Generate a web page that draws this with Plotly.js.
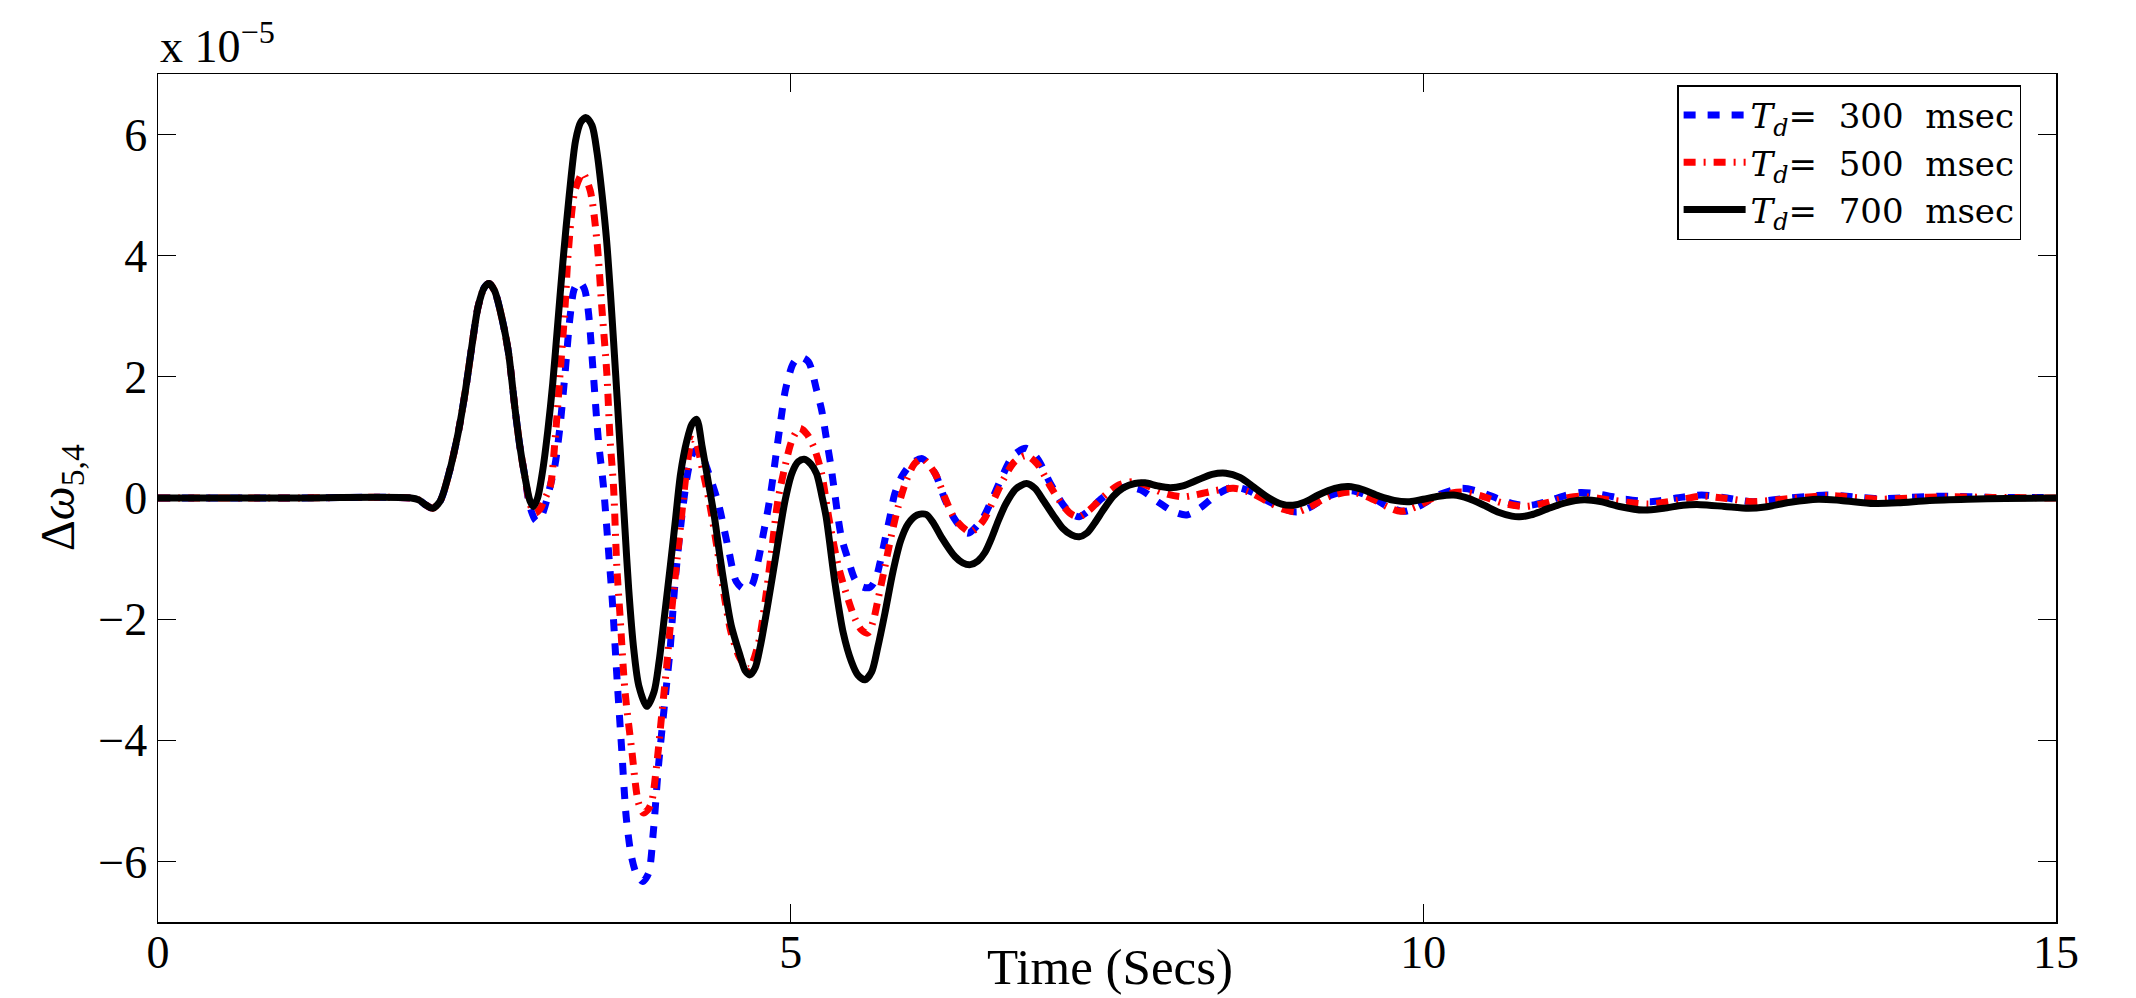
<!DOCTYPE html>
<html>
<head>
<meta charset="utf-8">
<script src="https://cdn.plot.ly/plotly-3.0.1.min.js"></script>
<style>html,body{margin:0;padding:0;background:#fff;}#chart{width:2136px;height:998px;}</style>
</head>
<body>
<div id="chart"></div>
<script>
// Values in units of 1e-5 (axis multiplier "x 10^-5")
// Shared start of all three responses
const tStart = [0, 1.0, 2.0, 2.06, 2.12, 2.17, 2.23, 2.3, 2.37, 2.43, 2.48, 2.53, 2.58, 2.617, 2.66, 2.72, 2.77, 2.82, 2.86, 2.9];
const vStart = [0, 0, 0, -0.03, -0.12, -0.17, -0.05, 0.41, 1.05, 1.78, 2.5, 3.16, 3.48, 3.54, 3.42, 2.95, 2.4, 1.5, 0.85, 0.35];

// Td = 300 msec
const t300 = [2.94, 2.99, 3.03, 3.07, 3.1, 3.138, 3.178, 3.217, 3.257, 3.29, 3.33, 3.37, 3.4, 3.44, 3.48, 3.52, 3.56, 3.59, 3.63, 3.665, 3.70, 3.74, 3.78, 3.83, 3.876, 3.915, 3.955, 4.007, 4.047, 4.086, 4.14, 4.19, 4.23, 4.27, 4.31, 4.37, 4.43, 4.51, 4.57, 4.63, 4.69, 4.745, 4.785, 4.82, 4.85, 4.88, 4.93, 4.96, 5.02, 5.07, 5.14, 5.205, 5.245, 5.28, 5.32, 5.35, 5.40, 5.455, 5.51, 5.57, 5.63, 5.67, 5.705, 5.745, 5.785, 5.82, 5.877, 5.956, 6.04, 6.14, 6.22, 6.3, 6.4, 6.51, 6.59, 6.67, 6.76, 6.86, 6.95, 7.05, 7.15, 7.22, 7.28, 7.35, 7.45, 7.55, 7.65, 7.77, 7.9, 8.02, 8.13, 8.24, 8.37, 8.5, 8.62, 8.78, 8.9, 9.0, 9.1, 9.25, 9.43, 9.6, 9.72, 9.85, 9.98, 10.12, 10.3, 10.45, 10.6, 10.72, 10.85, 11.0, 11.12, 11.24, 11.4, 11.6, 11.8, 12.0, 12.2, 12.4, 12.6, 12.9, 13.19, 13.4, 13.6, 13.85, 14.1, 14.5, 15];
const v300 = [-0.15, -0.38, -0.3, -0.05, 0.2, 0.55, 1.2, 2.06, 3.0, 3.45, 3.57, 3.45, 3.1, 2.06, 0.96, 0.2, -0.86, -1.68, -3.06, -4.16, -5.26, -5.9, -6.2, -6.33, -6.2, -5.5, -4.43, -3.33, -2.5, -1.4, -0.3, 0.45, 0.75, 0.8, 0.65, 0.3, -0.1, -0.86, -1.38, -1.5, -1.45, -1.02, -0.58, -0.2, 0.19, 0.65, 1.4, 1.8, 2.22, 2.33, 2.25, 1.78, 1.45, 1.01, 0.5, 0.05, -0.64, -1.02, -1.35, -1.47, -1.47, -1.35, -1.08, -0.69, -0.31, 0.05, 0.35, 0.57, 0.65, 0.41, -0.03, -0.36, -0.58, -0.36, -0.03, 0.35, 0.7, 0.82, 0.65, 0.25, -0.1, -0.26, -0.31, -0.22, -0.02, 0.13, 0.18, 0.13, -0.06, -0.22, -0.28, -0.16, 0.06, 0.18, 0.12, -0.06, -0.18, -0.23, -0.16, 0.03, 0.12, 0.0, -0.14, -0.22, -0.12, 0.05, 0.16, 0.1, -0.02, -0.1, -0.12, -0.04, 0.04, 0.09, 0.06, -0.02, -0.06, 0.0, 0.05, 0.0, -0.06, 0.0, 0.05, 0.02, -0.01, 0.01, 0.03, 0.01, 0.01];

// Td = 500 msec
const t500 = [2.94, 2.98, 3.02, 3.06, 3.1, 3.138, 3.178, 3.217, 3.244, 3.296, 3.357, 3.415, 3.468, 3.507, 3.547, 3.573, 3.6, 3.626, 3.652, 3.69, 3.744, 3.797, 3.836, 3.87, 3.9, 3.94, 3.98, 4.02, 4.06, 4.11, 4.165, 4.2, 4.22, 4.25, 4.3, 4.36, 4.42, 4.48, 4.53, 4.6, 4.67, 4.745, 4.8, 4.85, 4.9, 4.955, 5.01, 5.07, 5.13, 5.19, 5.245, 5.3, 5.377, 5.455, 5.51, 5.56, 5.61, 5.65, 5.69, 5.745, 5.8, 5.85, 5.916, 5.98, 6.04, 6.14, 6.22, 6.3, 6.42, 6.52, 6.6, 6.68, 6.77, 6.86, 6.95, 7.05, 7.15, 7.22, 7.28, 7.36, 7.46, 7.58, 7.7, 7.8, 7.95, 8.09, 8.2, 8.35, 8.5, 8.62, 8.78, 8.9, 9.0, 9.1, 9.25, 9.43, 9.6, 9.72, 9.82, 9.95, 10.1, 10.3, 10.45, 10.62, 10.8, 10.95, 11.1, 11.24, 11.5, 11.78, 12.0, 12.2, 12.4, 12.6, 12.9, 13.2, 13.4, 13.6, 13.85, 14.1, 14.5, 15];
const v500 = [-0.1, -0.25, -0.18, 0.0, 0.19, 0.96, 2.06, 3.16, 4.1, 5.08, 5.36, 5.08, 4.26, 3.16, 2.06, 0.96, 0.19, -1.13, -1.96, -3.17, -4.16, -5.03, -5.2, -5.15, -5.03, -4.43, -3.6, -2.78, -1.85, -0.86, 0.24, 0.8, 0.97, 0.92, 0.5, -0.1, -0.85, -1.68, -2.23, -2.65, -2.82, -2.4, -1.68, -0.86, -0.03, 0.52, 0.95, 1.15, 1.05, 0.8, 0.4, -0.31, -1.13, -1.68, -2.0, -2.18, -2.23, -2.05, -1.68, -1.13, -0.58, -0.14, 0.3, 0.57, 0.65, 0.41, 0.0, -0.35, -0.56, -0.38, -0.05, 0.3, 0.6, 0.7, 0.56, 0.2, -0.12, -0.27, -0.31, -0.2, 0.0, 0.2, 0.27, 0.22, 0.08, 0.02, 0.05, 0.12, 0.16, 0.1, -0.07, -0.19, -0.23, -0.15, 0.02, 0.1, -0.02, -0.15, -0.22, -0.14, 0.02, 0.1, 0.04, -0.08, -0.14, -0.09, -0.01, 0.03, -0.04, -0.1, -0.04, 0.03, -0.01, -0.06, -0.01, 0.04, 0.01, -0.02, 0.0, 0.02, 0.01, 0.0];

// Td = 700 msec
const t700 = [2.94, 2.967, 3.0, 3.04, 3.08, 3.12, 3.16, 3.2, 3.25, 3.3, 3.34, 3.383, 3.43, 3.47, 3.51, 3.545, 3.575, 3.6, 3.63, 3.66, 3.69, 3.72, 3.76, 3.8, 3.863, 3.92, 3.96, 4.0, 4.05, 4.09, 4.13, 4.18, 4.22, 4.257, 4.3, 4.35, 4.4, 4.44, 4.48, 4.53, 4.6, 4.64, 4.678, 4.72, 4.76, 4.82, 4.89, 4.955, 5.01, 5.06, 5.107, 5.16, 5.205, 5.245, 5.28, 5.35, 5.416, 5.48, 5.53, 5.587, 5.64, 5.69, 5.745, 5.81, 5.87, 5.93, 6.0, 6.07, 6.13, 6.19, 6.3, 6.36, 6.42, 6.48, 6.535, 6.59, 6.64, 6.7, 6.78, 6.865, 6.93, 7.0, 7.08, 7.15, 7.22, 7.28, 7.34, 7.4, 7.47, 7.55, 7.63, 7.72, 7.8, 7.9, 8.0, 8.1, 8.22, 8.33, 8.44, 8.55, 8.66, 8.78, 8.88, 8.97, 9.06, 9.17, 9.3, 9.41, 9.52, 9.65, 9.77, 9.89, 10.0, 10.12, 10.24, 10.36, 10.48, 10.6, 10.7, 10.76, 10.85, 10.98, 11.12, 11.27, 11.4, 11.55, 11.74, 11.9, 12.05, 12.19, 12.38, 12.57, 12.7, 12.9, 13.12, 13.3, 13.56, 13.75, 14.0, 14.3, 14.6, 15];
const v700 = [-0.05, -0.14, 0.0, 0.45, 1.1, 1.9, 2.9, 3.9, 5.0, 5.9, 6.2, 6.28, 6.15, 5.7, 5.0, 4.26, 3.4, 2.6, 1.6, 0.55, -0.5, -1.5, -2.5, -3.1, -3.44, -3.2, -2.7, -2.0, -1.1, -0.35, 0.4, 0.95, 1.22, 1.3, 0.85, 0.25, -0.35, -0.95, -1.5, -2.1, -2.6, -2.85, -2.92, -2.8, -2.45, -1.75, -0.86, -0.05, 0.41, 0.6, 0.64, 0.56, 0.4, 0.05, -0.31, -1.4, -2.23, -2.7, -2.92, -3.0, -2.87, -2.45, -1.9, -1.2, -0.7, -0.42, -0.28, -0.27, -0.42, -0.64, -0.97, -1.07, -1.1, -1.04, -0.9, -0.65, -0.38, -0.1, 0.15, 0.24, 0.16, -0.05, -0.3, -0.5, -0.61, -0.64, -0.58, -0.42, -0.2, 0.03, 0.17, 0.24, 0.25, 0.2, 0.17, 0.2, 0.3, 0.39, 0.41, 0.34, 0.18, 0.0, -0.1, -0.12, -0.07, 0.05, 0.16, 0.19, 0.14, 0.03, -0.04, -0.06, -0.02, 0.03, 0.05, -0.01, -0.12, -0.24, -0.3, -0.31, -0.28, -0.18, -0.08, -0.03, -0.06, -0.14, -0.2, -0.17, -0.12, -0.11, -0.14, -0.17, -0.15, -0.07, -0.02, -0.04, -0.09, -0.08, -0.04, -0.02, -0.01, 0];

const seriesNames = [
  '<i>T</i><sub><i>d</i></sub>=\u00a0 300\u00a0 msec',
  '<i>T</i><sub><i>d</i></sub>=\u00a0 500\u00a0 msec',
  '<i>T</i><sub><i>d</i></sub>=\u00a0 700\u00a0 msec'
];
const xTicks = [0, 5, 10, 15];
const yTicks = [-6, -4, -2, 0, 2, 4, 6];

const serif = 'Liberation Serif, Times New Roman, serif';
const traces = [
  {x: tStart.concat(t300), y: vStart.concat(v300), name: seriesNames[0], mode: 'lines',
   line: {color: '#0000ff', width: 7, dash: '12px,12px', shape: 'spline', smoothing: 0.8}},
  {x: tStart.concat(t500), y: vStart.concat(v500), name: seriesNames[1], mode: 'lines',
   line: {color: '#ff0000', width: 7, dash: '12px,8px,2px,8px', shape: 'spline', smoothing: 0.8}},
  {x: tStart.concat(t700), y: vStart.concat(v700), name: seriesNames[2], mode: 'lines',
   line: {color: '#000000', width: 7, shape: 'spline', smoothing: 0.8}}
];

const axisCommon = {
  ticks: 'inside', ticklen: 18, tickwidth: 1, tickcolor: '#000',
  showline: true, linewidth: 1.5, linecolor: '#000', mirror: 'ticks',
  showgrid: false, zeroline: false,
  tickfont: {family: serif, size: 46, color: '#000'}
};

const layout = {
  width: 2136, height: 998,
  paper_bgcolor: '#fff', plot_bgcolor: '#fff',
  margin: {l: 158, r: 80, t: 74, b: 76, pad: 0},
  showlegend: true,
  xaxis: Object.assign({}, axisCommon, {range: [0, 15], tickvals: xTicks, ticktext: xTicks.map(String), ticklabelstandoff: -11}),
  yaxis: Object.assign({}, axisCommon, {range: [-7, 7], tickvals: yTicks}),
  legend: {x: 0.891, y: 0.987, xanchor: 'center', yanchor: 'top',
    bgcolor: '#fff', bordercolor: '#000', borderwidth: 1.5,
    font: {family: 'DejaVu Serif, serif', size: 34, color: '#000'}, itemwidth: 62, tracegroupgap: 0},
  annotations: [
    {text: 'x 10<sup>−5</sup>', xref: 'paper', yref: 'paper', x: 0, y: 1, xanchor: 'left', yanchor: 'bottom',
     showarrow: false, font: {family: serif, size: 46, color: '#000'}},
    {text: 'Time (Secs)', xref: 'paper', yref: 'paper', x: 0.5016, y: -0.053, xanchor: 'center', yanchor: 'middle',
     showarrow: false, font: {family: serif, size: 51, color: '#000'}},
    {text: 'Δ<i>ω</i><sub>5,4</sub>', xref: 'paper', yref: 'paper', x: -0.0511, y: 0.5, xanchor: 'center', yanchor: 'middle',
     textangle: -90, showarrow: false, font: {family: serif, size: 48, color: '#000'}}
  ]
};

Plotly.newPlot('chart', traces, layout, {displayModeBar: false, staticPlot: true});
</script>
</body>
</html>
